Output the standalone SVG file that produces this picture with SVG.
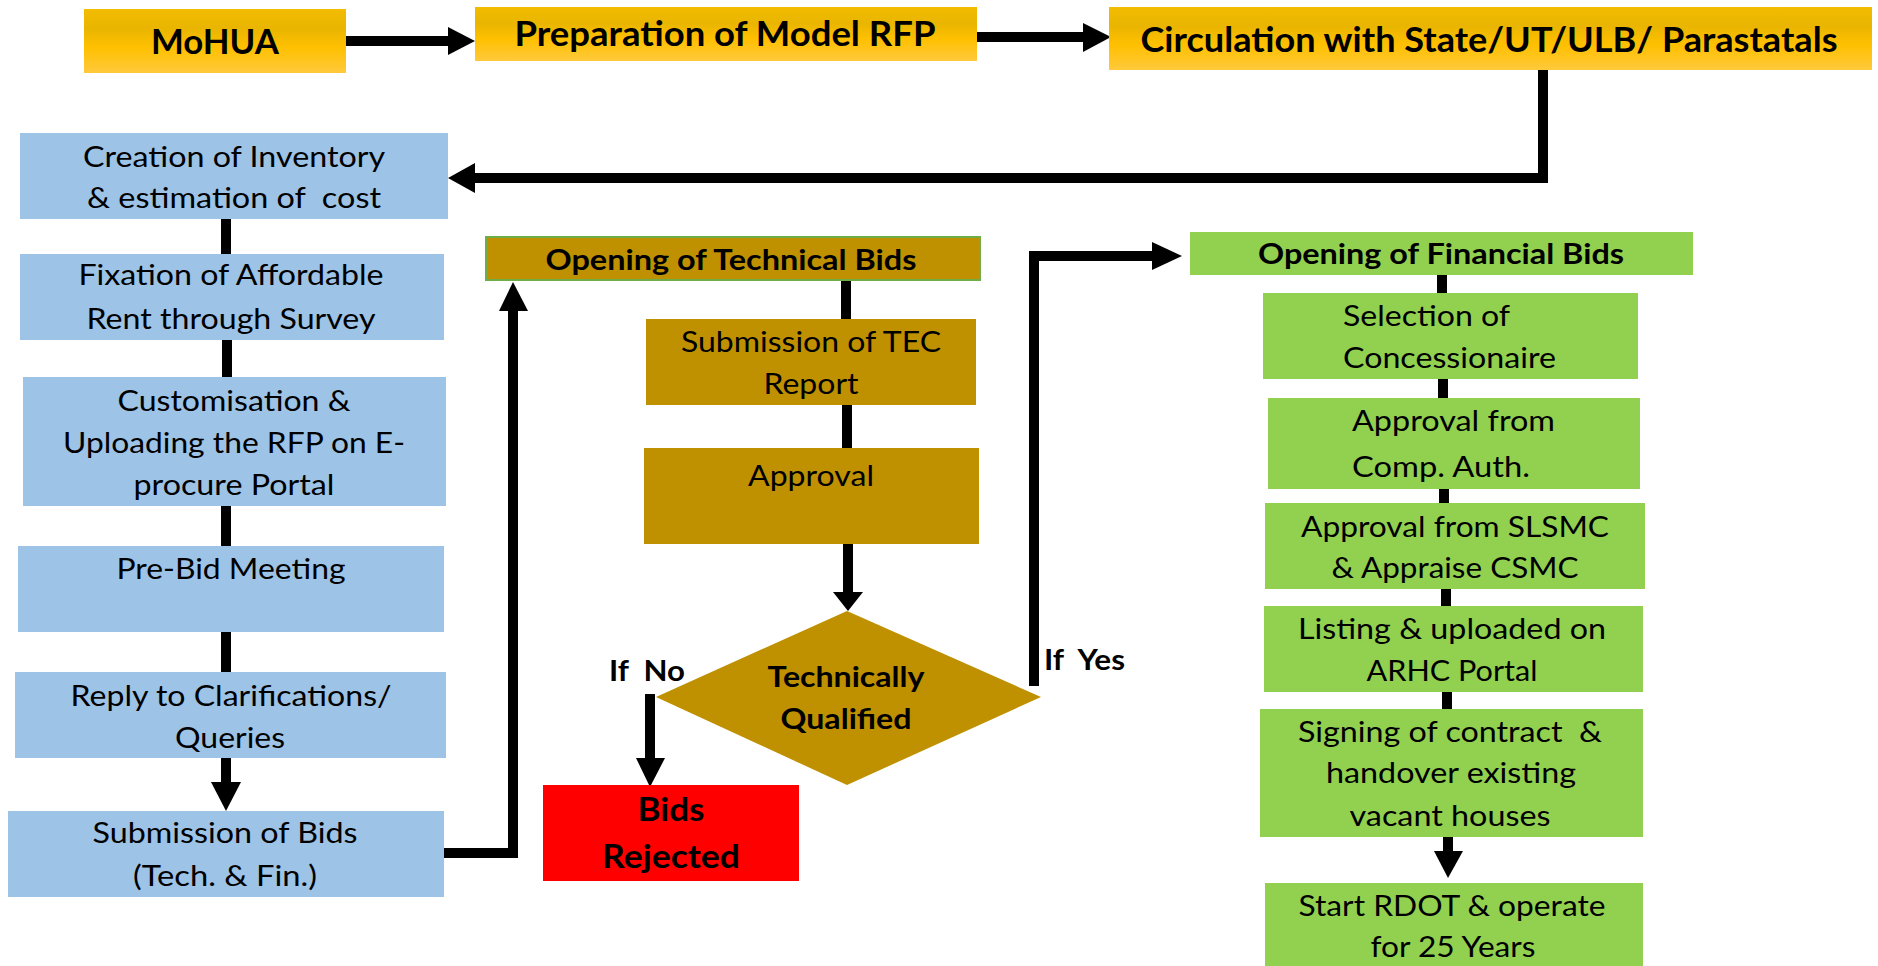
<svg xmlns="http://www.w3.org/2000/svg" width="1878" height="966" viewBox="0 0 1878 966">
<style>
text{font-family:Lato,"Open Sans","Liberation Sans",sans-serif;fill:#000}
.r{font-size:28px}
.b{font-size:34px;font-weight:bold}
.bm{font-size:29px;font-weight:bold}
.c{text-anchor:middle}
.gold{fill:url(#gold)}
.blue{fill:#9DC3E6}
.brown{fill:#BF9000}
.green{fill:#92D050}
.red{fill:#FF0000}
.ln{fill:none;stroke:#000;stroke-width:10;stroke-linejoin:miter}
.hd{fill:#000}
</style>
<defs>
<linearGradient id="gold" x1="0" y1="0" x2="0" y2="1">
<stop offset="0" stop-color="#F2BC00"/>
<stop offset="0.3" stop-color="#E9B500"/>
<stop offset="0.6" stop-color="#FFC000"/>
<stop offset="1" stop-color="#FFC93C"/>
</linearGradient>
</defs>
<rect width="1878" height="966" fill="#fff"/>

<g id="connectors">
<path class="ln" d="M346,41H450"/>
<polygon class="hd" points="448,27 475,41 448,55"/>
<path class="ln" d="M977,37H1085"/>
<polygon class="hd" points="1083,23 1111,37 1083,52"/>
<path class="ln" d="M1543,62V178H473"/>
<polygon class="hd" points="475,163 448,178 475,193"/>
<path class="ln" d="M226,219V254"/>
<path class="ln" d="M227,340V377"/>
<path class="ln" d="M226,506V546"/>
<path class="ln" d="M226,632V672"/>
<path class="ln" d="M226,758V784"/>
<polygon class="hd" points="211,782 241,782 226,811"/>
<path class="ln" d="M444,853H513V309"/>
<polygon class="hd" points="499,311 528,311 513,282"/>
<path class="ln" d="M846,280V319"/>
<path class="ln" d="M847,405V448"/>
<path class="ln" d="M848,544V594"/>
<polygon class="hd" points="833,592 863,592 848,611"/>
<path class="ln" d="M650,694V760"/>
<polygon class="hd" points="636,758 665,758 650,787"/>
<path class="ln" d="M1034,686V256H1154"/>
<polygon class="hd" points="1152,242 1182,256 1152,270"/>
<path class="ln" d="M1442,275V293"/>
<path class="ln" d="M1443,379V398"/>
<path class="ln" d="M1444,489V503"/>
<path class="ln" d="M1446,589V606"/>
<path class="ln" d="M1447,692V709"/>
<path class="ln" d="M1448,837V853"/>
<polygon class="hd" points="1434,851 1463,851 1448,878"/>
</g>

<g id="mohua">
<rect class="gold" x="84" y="9" width="262" height="64"/>
<text class="b c" x="215" y="54" textLength="128" lengthAdjust="spacingAndGlyphs">MoHUA</text>
</g>
<g id="prep">
<rect class="gold" x="475" y="7" width="502" height="54"/>
<text class="b c" x="725" y="46" textLength="421" lengthAdjust="spacingAndGlyphs">Preparation of Model RFP</text>
</g>
<g id="circ">
<rect class="gold" x="1109" y="7" width="763" height="63"/>
<text class="b c" x="1489" y="52" textLength="697" lengthAdjust="spacingAndGlyphs">Circulation with State/UT/ULB/ Parastatals</text>
</g>

<g id="creation">
<rect class="blue" x="20" y="133" width="428" height="86"/>
<text class="r c" x="234" y="167" textLength="302" lengthAdjust="spacingAndGlyphs">Creation of Inventory</text>
<text class="r c" x="234" y="208" textLength="294" lengthAdjust="spacingAndGlyphs" xml:space="preserve">&amp; estimation of  cost</text>
</g>
<g id="fixation">
<rect class="blue" x="20" y="254" width="424" height="86"/>
<text class="r c" x="231" y="285" textLength="305" lengthAdjust="spacingAndGlyphs">Fixation of Affordable</text>
<text class="r c" x="231" y="329" textLength="289" lengthAdjust="spacingAndGlyphs">Rent through Survey</text>
</g>
<g id="customisation">
<rect class="blue" x="23" y="377" width="423" height="129"/>
<text class="r c" x="234" y="411" textLength="233" lengthAdjust="spacingAndGlyphs">Customisation &amp;</text>
<text class="r c" x="234" y="453" textLength="342" lengthAdjust="spacingAndGlyphs">Uploading the RFP on E-</text>
<text class="r c" x="234" y="495" textLength="201" lengthAdjust="spacingAndGlyphs">procure Portal</text>
</g>
<g id="prebid">
<rect class="blue" x="18" y="546" width="426" height="86"/>
<text class="r c" x="231" y="579" textLength="229" lengthAdjust="spacingAndGlyphs">Pre-Bid Meeting</text>
</g>
<g id="reply">
<rect class="blue" x="15" y="672" width="431" height="86"/>
<text class="r c" x="231" y="706" textLength="321" lengthAdjust="spacingAndGlyphs">Reply to Clarifications/</text>
<text class="r c" x="230" y="748" textLength="110" lengthAdjust="spacingAndGlyphs">Queries</text>
</g>
<g id="submission">
<rect class="blue" x="8" y="811" width="436" height="86"/>
<text class="r c" x="225" y="843" textLength="265" lengthAdjust="spacingAndGlyphs">Submission of Bids</text>
<text class="r c" x="225" y="886" textLength="184" lengthAdjust="spacingAndGlyphs">(Tech. &amp; Fin.)</text>
</g>

<g id="tech-open">
<rect class="brown" x="486" y="237" width="494" height="43" stroke="#70AD47" stroke-width="2"/>
<text class="bm c" x="731" y="270" textLength="371" lengthAdjust="spacingAndGlyphs">Opening of Technical Bids</text>
</g>
<g id="tec">
<rect class="brown" x="646" y="319" width="330" height="86"/>
<text class="r c" x="811" y="352" textLength="260" lengthAdjust="spacingAndGlyphs">Submission of TEC</text>
<text class="r c" x="811" y="394" textLength="95" lengthAdjust="spacingAndGlyphs">Report</text>
</g>
<g id="approval">
<rect class="brown" x="644" y="448" width="335" height="96"/>
<text class="r c" x="811" y="486" textLength="126" lengthAdjust="spacingAndGlyphs">Approval</text>
</g>
<g id="qualified">
<polygon class="brown" points="847,611 1041,697 847,785 656,697"/>
<text class="bm c" x="846" y="687" textLength="157" lengthAdjust="spacingAndGlyphs" style="font-size:28px">Technically</text>
<text class="bm c" x="846" y="729" textLength="131" lengthAdjust="spacingAndGlyphs" style="font-size:28px">Qualified</text>
</g>
<g id="label-no">
<text class="bm" x="609" y="681" textLength="76" lengthAdjust="spacingAndGlyphs" xml:space="preserve" style="font-size:28px">If  No</text>
</g>
<g id="label-yes">
<text class="bm" x="1044" y="670" textLength="81" lengthAdjust="spacingAndGlyphs" xml:space="preserve" style="font-size:28px">If  Yes</text>
</g>
<g id="rejected">
<rect class="red" x="543" y="785" width="256" height="96"/>
<text class="bm c" x="671" y="821" textLength="67" lengthAdjust="spacingAndGlyphs" style="font-size:32px">Bids</text>
<text class="bm c" x="671" y="868" textLength="138" lengthAdjust="spacingAndGlyphs" style="font-size:32px">Rejected</text>
</g>

<g id="fin-open">
<rect class="green" x="1190" y="232" width="503" height="43"/>
<text class="bm c" x="1441" y="264" textLength="366" lengthAdjust="spacingAndGlyphs">Opening of Financial Bids</text>
</g>
<g id="selection">
<rect class="green" x="1263" y="293" width="375" height="86"/>
<text class="r" x="1343" y="326" textLength="167" lengthAdjust="spacingAndGlyphs">Selection of</text>
<text class="r" x="1343" y="368" textLength="213" lengthAdjust="spacingAndGlyphs">Concessionaire</text>
</g>
<g id="comp-auth">
<rect class="green" x="1268" y="398" width="372" height="91"/>
<text class="r" x="1352" y="431" textLength="203" lengthAdjust="spacingAndGlyphs">Approval from</text>
<text class="r" x="1352" y="477" textLength="178" lengthAdjust="spacingAndGlyphs">Comp. Auth.</text>
</g>
<g id="slsmc">
<rect class="green" x="1265" y="503" width="380" height="86"/>
<text class="r c" x="1455" y="537" textLength="308" lengthAdjust="spacingAndGlyphs">Approval from SLSMC</text>
<text class="r c" x="1455" y="578" textLength="247" lengthAdjust="spacingAndGlyphs">&amp; Appraise CSMC</text>
</g>
<g id="listing">
<rect class="green" x="1264" y="606" width="379" height="86"/>
<text class="r c" x="1452" y="639" textLength="308" lengthAdjust="spacingAndGlyphs">Listing &amp; uploaded on</text>
<text class="r c" x="1452" y="681" textLength="171" lengthAdjust="spacingAndGlyphs">ARHC Portal</text>
</g>
<g id="signing">
<rect class="green" x="1260" y="709" width="383" height="128"/>
<text class="r c" x="1450" y="742" textLength="304" lengthAdjust="spacingAndGlyphs" xml:space="preserve">Signing of contract  &amp;</text>
<text class="r c" x="1451" y="783" textLength="250" lengthAdjust="spacingAndGlyphs">handover existing</text>
<text class="r c" x="1450" y="826" textLength="201" lengthAdjust="spacingAndGlyphs">vacant houses</text>
</g>
<g id="rdot">
<rect class="green" x="1265" y="883" width="378" height="83"/>
<text class="r c" x="1452" y="916" textLength="307" lengthAdjust="spacingAndGlyphs">Start RDOT &amp; operate</text>
<text class="r c" x="1453" y="957" textLength="165" lengthAdjust="spacingAndGlyphs">for 25 Years</text>
</g>
</svg>
